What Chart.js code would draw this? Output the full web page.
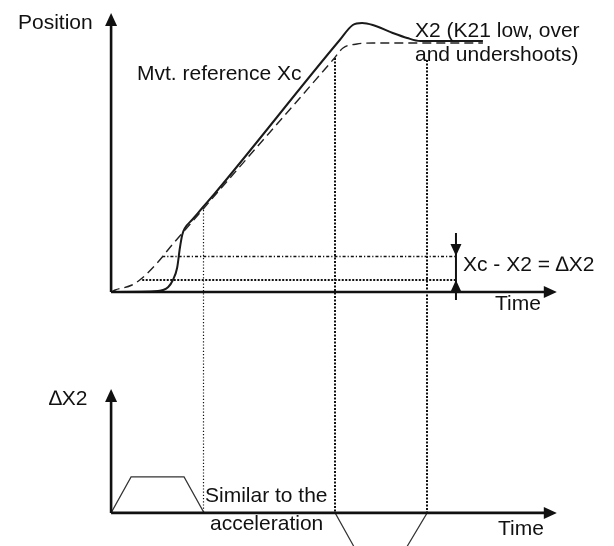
<!DOCTYPE html>
<html>
<head>
<meta charset="utf-8">
<script src="https://cdn.jsdelivr.net/npm/chart.js@4/dist/chart.umd.min.js"></script>
<style>
  html, body { margin: 0; padding: 0; background: #fff; }
  #wrap { width: 614px; height: 546px; position: relative; }
</style>
</head>
<body>
<div id="wrap"><canvas id="c"></canvas></div>
<script>
// Movement reference Xc (dashed) : time vs position
const refTime = [0, 0.09, 0.45, 0.67, 1.01, 1.31, 1.59, 1.87, 2.24, 4.77, 4.99, 5.29, 5.63, 8.0];
const refPos  = [0, 0.08, 0.28, 0.56, 1.20, 1.88, 2.48, 3.08, 3.88, 9.28, 9.76, 9.92, 9.96, 9.96];

// Actual position X2 (solid) : lags, then overshoots and settles
const x2Time = [0, 1.01, 1.23, 1.33, 1.42, 1.48, 1.53, 1.59, 1.74, 1.96, 2.24, 4.92, 5.20, 5.40, 5.63, 6.06, 6.37, 6.65, 8.0];
const x2Pos  = [0, 0.04, 0.20, 0.48, 0.96, 1.76, 2.28, 2.56, 2.88, 3.36, 3.96, 10.08, 10.68, 10.76, 10.68, 10.36, 10.16, 10.04, 10.04];

// Following error ΔX2 : shaped like the acceleration profile
const errTime = [0, 0.43, 1.57, 2.0, 4.82, 5.51, 6.06, 6.80, 9.0];
const errVal  = [0, 1, 1, 0, 0, -1.6, -1.6, 0, 0];

// Phase boundaries (end of acceleration, start / end of deceleration) and where the guide starts
const phaseTimes = [1.98, 4.82, 6.80];
const phaseTops  = [3.28, 9.36, 9.28];

// ΔX2 measurement: two sampled levels and the time where the gap is marked
const gapStarts = [1.10, 0.67];
const gapLevels = [1.44, 0.48];
const gapTime = 7.42;

// Axis extents (arrow tips)
const timeEnd = 9.59;
const positionTop = 11.16;
const errTop = 3.44;

// Visible ranges of the three scales
const timeRange = [-2.39, 10.82];
const positionRange = [-10.16, 11.68];
const errRange = [-0.92, 14.25];

const pts = (xs, ys) => xs.map((x, i) => ({ x, y: ys[i] }));

const INK = '#111';
const FONT = '21px "Liberation Sans", Arial, sans-serif';

const texts = [
  { t: 'Position', x: 18, y: 29 },
  { t: 'Mvt. reference Xc', x: 137, y: 80 },
  { t: 'X2 (K21 low, over', x: 415, y: 37 },
  { t: 'and undershoots)', x: 415, y: 61 },
  { t: 'Xc - X2 = \u2206X2', x: 463, y: 271 },
  { t: 'Time', x: 495, y: 310 },
  { t: '\u2206X2', x: 49, y: 405 },
  { t: 'Similar to the', x: 205, y: 502 },
  { t: 'acceleration', x: 210, y: 530 },
  { t: 'Time', x: 498, y: 535 }
];

function arrowHead(ctx, x, y, dir, len, half) {
  ctx.beginPath();
  if (dir === 'up') { ctx.moveTo(x, y); ctx.lineTo(x - half, y + len); ctx.lineTo(x + half, y + len); }
  else if (dir === 'down') { ctx.moveTo(x, y); ctx.lineTo(x - half, y - len); ctx.lineTo(x + half, y - len); }
  else { ctx.moveTo(x, y); ctx.lineTo(x - len, y - half); ctx.lineTo(x - len, y + half); }
  ctx.closePath();
  ctx.fill();
}

const guides = {
  id: 'guides',
  beforeDatasetsDraw(chart) {
    const ctx = chart.ctx, sx = chart.scales.x, sp = chart.scales.y, se = chart.scales.yd;
    ctx.save();
    ctx.strokeStyle = INK;
    // vertical phase guides, from the curve down to the error axis
    phaseTimes.forEach((t, i) => {
      const x = Math.round(sx.getPixelForValue(t)) + (i === 0 ? 0.5 : 0);
      ctx.lineWidth = i === 0 ? 1.2 : 2;
      ctx.setLineDash(i === 0 ? [1.2, 2] : [2, 1.5]);
      ctx.beginPath();
      ctx.moveTo(x, sp.getPixelForValue(phaseTops[i]));
      ctx.lineTo(x, se.getPixelForValue(0));
      ctx.stroke();
    });
    // horizontal dash-dot levels
    gapLevels.forEach((v, i) => {
      ctx.lineWidth = i === 0 ? 1.3 : 1.8;
      ctx.setLineDash(i === 0 ? [3, 2, 1.2, 2] : [2, 1.5]);
      const y = Math.round(sp.getPixelForValue(v)) + (i === 0 ? 0.5 : 0);
      ctx.beginPath();
      ctx.moveTo(sx.getPixelForValue(gapStarts[i]), y);
      ctx.lineTo(sx.getPixelForValue(gapTime), y);
      ctx.stroke();
    });
    ctx.restore();
  },
  afterDatasetsDraw(chart) {
    const ctx = chart.ctx, sx = chart.scales.x, sp = chart.scales.y, se = chart.scales.yd;
    ctx.save();
    ctx.strokeStyle = INK;
    ctx.fillStyle = INK;
    ctx.setLineDash([]);
    ctx.lineWidth = 2.6;
    const x0 = sx.getPixelForValue(0), xEnd = sx.getPixelForValue(timeEnd);
    // position panel axes
    const py0 = sp.getPixelForValue(0), pyTop = sp.getPixelForValue(positionTop);
    // error panel axes
    const ey0 = se.getPixelForValue(0), eyTop = se.getPixelForValue(errTop);
    [[py0, pyTop], [ey0, eyTop]].forEach(([y0, yTop]) => {
      ctx.beginPath();
      ctx.moveTo(x0, y0); ctx.lineTo(x0, yTop + 10);
      ctx.moveTo(x0, y0); ctx.lineTo(xEnd - 10, y0);
      ctx.stroke();
      arrowHead(ctx, x0, yTop, 'up', 13, 6);
      arrowHead(ctx, xEnd, y0, 'right', 13, 6);
    });
    // ΔX2 double marker
    const gx = sx.getPixelForValue(gapTime);
    const yHi = sp.getPixelForValue(gapLevels[0]), yLo = sp.getPixelForValue(gapLevels[1]);
    ctx.lineWidth = 2;
    ctx.beginPath();
    ctx.moveTo(gx, yHi - 23); ctx.lineTo(gx, yLo + 20);
    ctx.stroke();
    arrowHead(ctx, gx, yHi, 'down', 12, 5.5);
    arrowHead(ctx, gx, yLo, 'up', 12, 5.5);
    // text
    ctx.font = FONT;
    ctx.textAlign = 'left';
    ctx.textBaseline = 'alphabetic';
    texts.forEach(o => ctx.fillText(o.t, o.x, o.y));
    ctx.restore();
  }
};

new Chart(document.getElementById('c'), {
  type: 'scatter',
  data: {
    datasets: [
      {
        label: 'Xc',
        data: pts(refTime, refPos),
        yAxisID: 'y',
        showLine: true,
        borderColor: '#222',
        borderWidth: 1.4,
        borderDash: [9, 5],
        pointRadius: 0,
        cubicInterpolationMode: 'monotone'
      },
      {
        label: 'X2',
        data: pts(x2Time, x2Pos),
        yAxisID: 'y',
        showLine: true,
        borderColor: '#1a1a1a',
        borderWidth: 2,
        pointRadius: 0,
        cubicInterpolationMode: 'monotone'
      },
      {
        label: '\u2206X2',
        data: pts(errTime, errVal),
        yAxisID: 'yd',
        showLine: true,
        borderColor: '#333',
        borderWidth: 1.2,
        pointRadius: 0,
        tension: 0
      }
    ]
  },
  options: {
    responsive: true,
    maintainAspectRatio: false,
    animation: false,
    layout: { padding: 0 },
    plugins: { legend: { display: false }, tooltip: { enabled: false } },
    scales: {
      x: { type: 'linear', min: timeRange[0], max: timeRange[1], display: false },
      y: { type: 'linear', min: positionRange[0], max: positionRange[1], display: false },
      yd: { type: 'linear', min: errRange[0], max: errRange[1], display: false }
    }
  },
  plugins: [guides]
});
</script>
</body>
</html>
